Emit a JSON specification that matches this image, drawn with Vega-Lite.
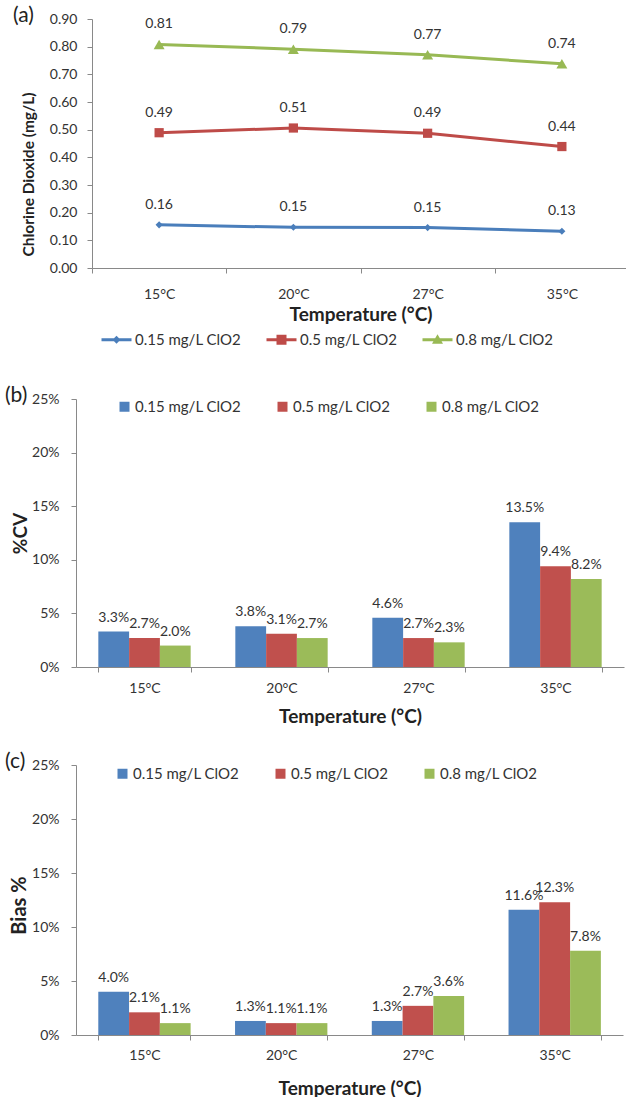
{
  "$schema": "https://vega.github.io/schema/vega-lite/v6.json",
  "padding": {"left": 5, "top": 5, "right": 0, "bottom": 0},
  "background": "white",
  "config": {
    "font": "Lato",
    "view": {"stroke": null},
    "axis": {"grid": false, "domainColor": "#898989", "tickColor": "#898989", "labelColor": "#333333", "titleColor": "#222222", "labelFontSize": 14, "tickSize": 5},
    "legend": {"labelFontSize": 15, "labelColor": "#333333"},
    "title": {"fontWeight": "normal", "fontSize": 21, "color": "#222222", "anchor": "start", "frame": "group", "baseline": "middle", "offset": 0}
  },
  "datasets": {
    "conc": [
      {"temp": "15°C", "series": "0.15 mg/L ClO2", "v": 0.156},
      {"temp": "20°C", "series": "0.15 mg/L ClO2", "v": 0.147},
      {"temp": "27°C", "series": "0.15 mg/L ClO2", "v": 0.146},
      {"temp": "35°C", "series": "0.15 mg/L ClO2", "v": 0.133},
      {"temp": "15°C", "series": "0.5 mg/L ClO2", "v": 0.489},
      {"temp": "20°C", "series": "0.5 mg/L ClO2", "v": 0.506},
      {"temp": "27°C", "series": "0.5 mg/L ClO2", "v": 0.487},
      {"temp": "35°C", "series": "0.5 mg/L ClO2", "v": 0.439},
      {"temp": "15°C", "series": "0.8 mg/L ClO2", "v": 0.808},
      {"temp": "20°C", "series": "0.8 mg/L ClO2", "v": 0.791},
      {"temp": "27°C", "series": "0.8 mg/L ClO2", "v": 0.771},
      {"temp": "35°C", "series": "0.8 mg/L ClO2", "v": 0.738}
    ],
    "cv": [
      {"temp": "15°C", "series": "0.15 mg/L ClO2", "v": 0.033},
      {"temp": "20°C", "series": "0.15 mg/L ClO2", "v": 0.038},
      {"temp": "27°C", "series": "0.15 mg/L ClO2", "v": 0.046},
      {"temp": "35°C", "series": "0.15 mg/L ClO2", "v": 0.135},
      {"temp": "15°C", "series": "0.5 mg/L ClO2", "v": 0.027},
      {"temp": "20°C", "series": "0.5 mg/L ClO2", "v": 0.031},
      {"temp": "27°C", "series": "0.5 mg/L ClO2", "v": 0.027},
      {"temp": "35°C", "series": "0.5 mg/L ClO2", "v": 0.094},
      {"temp": "15°C", "series": "0.8 mg/L ClO2", "v": 0.020},
      {"temp": "20°C", "series": "0.8 mg/L ClO2", "v": 0.027},
      {"temp": "27°C", "series": "0.8 mg/L ClO2", "v": 0.023},
      {"temp": "35°C", "series": "0.8 mg/L ClO2", "v": 0.082}
    ],
    "bias": [
      {"temp": "15°C", "series": "0.15 mg/L ClO2", "v": 0.040},
      {"temp": "20°C", "series": "0.15 mg/L ClO2", "v": 0.013},
      {"temp": "27°C", "series": "0.15 mg/L ClO2", "v": 0.013},
      {"temp": "35°C", "series": "0.15 mg/L ClO2", "v": 0.116},
      {"temp": "15°C", "series": "0.5 mg/L ClO2", "v": 0.021},
      {"temp": "20°C", "series": "0.5 mg/L ClO2", "v": 0.011},
      {"temp": "27°C", "series": "0.5 mg/L ClO2", "v": 0.027},
      {"temp": "35°C", "series": "0.5 mg/L ClO2", "v": 0.123},
      {"temp": "15°C", "series": "0.8 mg/L ClO2", "v": 0.011},
      {"temp": "20°C", "series": "0.8 mg/L ClO2", "v": 0.011},
      {"temp": "27°C", "series": "0.8 mg/L ClO2", "v": 0.036},
      {"temp": "35°C", "series": "0.8 mg/L ClO2", "v": 0.078}
    ]
  },
  "columns": 1,
  "align": "none",
  "spacing": 37,
  "resolve": {"scale": {"color": "independent", "fill": "independent", "shape": "independent", "size": "independent"}, "legend": {"color": "independent", "fill": "independent", "shape": "independent"}},
  "concat": [
    {
      "width": 553,
      "height": 249,
      "title": {"text": "(a)", "dx": -63, "dy": 18},
      "data": {"name": "conc"},
      "encoding": {
        "x": {"field": "temp", "type": "nominal", "sort": ["15°C", "20°C", "27°C", "35°C"], "bandPosition": 0.5,
          "scale": {"paddingInner": 0, "paddingOuter": 0, "range": [16, 553]},
          "axis": {"title": "Temperature (°C)", "labelAngle": 0, "tickBand": "extent", "labelPadding": 14, "titlePadding": 4, "titleFontSize": 19, "titleFontWeight": "bold"}},
        "y": {"field": "v", "type": "quantitative", "scale": {"domain": [0, 0.9], "nice": false},
          "axis": {"offset": -16, "title": "Chlorine Dioxide (mg/L)", "values": [0, 0.1, 0.2, 0.3, 0.4, 0.5, 0.6, 0.7, 0.8, 0.9], "format": ".2f", "labelPadding": 10, "titleFontSize": 15.5, "titleFontWeight": "bold", "titleX": -64, "titleY": 155, "titleBaseline": "middle"}}
      },
      "layer": [
        {
          "mark": {"type": "line", "strokeWidth": 3},
          "encoding": {
            "color": {"field": "series", "type": "nominal", "scale": {"domain": ["0.15 mg/L ClO2", "0.5 mg/L ClO2", "0.8 mg/L ClO2"], "range": ["#4A7EBB", "#BE4B48", "#98B954"]}, "legend": null}
          }
        },
        {
          "mark": {"type": "point", "filled": true, "opacity": 1},
          "encoding": {
            "color": {"field": "series", "type": "nominal", "legend": null},
            "shape": {"field": "series", "type": "nominal", "scale": {"domain": ["0.15 mg/L ClO2", "0.5 mg/L ClO2", "0.8 mg/L ClO2"], "range": ["diamond", "square", "triangle-up"]}, "legend": null},
            "size": {"field": "series", "type": "nominal", "scale": {"domain": ["0.15 mg/L ClO2", "0.5 mg/L ClO2", "0.8 mg/L ClO2"], "range": [50, 120, 120]}, "legend": null}
          }
        },
        {
          "transform": [{"filter": "false"}],
          "mark": {"type": "point", "filled": true, "opacity": 1, "size": 100},
          "encoding": {
            "fill": {"field": "series", "type": "nominal", "scale": {"domain": ["0.15 mg/L ClO2", "0.5 mg/L ClO2", "0.8 mg/L ClO2"], "range": ["#4A7EBB", "#BE4B48", "#98B954"]},
              "legend": {"orient": "none", "legendX": 23, "legendY": 313, "direction": "horizontal", "title": null, "symbolSize": 100, "symbolOffset": 10, "labelOffset": 11, "columnPadding": 22, "symbolStrokeWidth": 0, "labelFontSize": 15}},
            "shape": {"field": "series", "type": "nominal", "scale": {"domain": ["0.15 mg/L ClO2", "0.5 mg/L ClO2", "0.8 mg/L ClO2"], "range": ["M-3,-0.28H3V0.28H-3Z M0,-0.8L0.8,0L0,0.8L-0.8,0Z", "M-3,-0.28H3V0.28H-3Z M-1,-1H1V1H-1Z", "M-3,-0.28H3V0.28H-3Z M0,-1.1L1.1,0.8H-1.1Z"]},
              "legend": {"orient": "none", "legendX": 23, "legendY": 313, "direction": "horizontal", "title": null, "symbolSize": 100, "symbolOffset": 10, "labelOffset": 11, "columnPadding": 22, "symbolStrokeWidth": 0, "labelFontSize": 15}}
          }
        },
        {
          "mark": {"type": "text", "dy": -20, "fontSize": 14, "color": "#333333", "baseline": "middle"},
          "encoding": {"text": {"field": "v", "type": "quantitative", "format": ".2f"}}
        }
      ],
      "resolve": {"scale": {"shape": "independent", "fill": "independent"}}
    },
    {
      "columns": 1,
      "align": "none",
      "spacing": 25,
      "resolve": {"scale": {"color": "independent"}, "legend": {"color": "independent"}},
      "concat": [
        {
          "width": 548,
          "height": 268,
          "title": {"text": "(b)", "dx": -71, "dy": 18},
          "data": {"name": "cv"},
          "encoding": {
            "x": {"field": "temp", "type": "nominal", "sort": ["15°C", "20°C", "27°C", "35°C"],
              "scale": {"paddingInner": 0.326, "paddingOuter": 0.163},
              "axis": {"title": "Temperature (°C)", "labelAngle": 0, "tickBand": "extent", "labelPadding": 9, "titlePadding": 12, "titleFontSize": 19, "titleFontWeight": "bold"}},
            "xOffset": {"field": "series", "type": "nominal", "sort": ["0.15 mg/L ClO2", "0.5 mg/L ClO2", "0.8 mg/L ClO2"], "scale": {"paddingInner": 0, "paddingOuter": 0}},
            "y": {"field": "v", "type": "quantitative", "scale": {"domain": [0, 0.25], "nice": false},
              "axis": {"title": "%CV", "values": [0, 0.05, 0.1, 0.15, 0.2, 0.25], "format": ".0%", "labelPadding": 12, "titleFontSize": 19, "titleFontWeight": "bold", "titleX": -56, "titleY": 134, "titleBaseline": "middle"}}
          },
          "layer": [
            {
              "mark": {"type": "bar"},
              "encoding": {
                "color": {"field": "series", "type": "nominal", "scale": {"domain": ["0.15 mg/L ClO2", "0.5 mg/L ClO2", "0.8 mg/L ClO2"], "range": ["#4F81BD", "#C0504D", "#9BBB59"]},
                  "legend": {"orient": "none", "legendX": 41, "legendY": 0, "direction": "horizontal", "title": null, "symbolType": "square", "symbolSize": 100, "labelOffset": 3, "columnPadding": 33, "labelFontSize": 15}}
              }
            },
            {
              "mark": {"type": "text", "dy": -10, "fontSize": 14, "color": "#333333", "baseline": "alphabetic"},
              "encoding": {"text": {"field": "v", "type": "quantitative", "format": ".1%"}}
            }
          ]
        },
        {
          "width": 547,
          "height": 270,
          "title": {"text": "(c)", "dx": -71, "dy": 18},
          "data": {"name": "bias"},
          "encoding": {
            "x": {"field": "temp", "type": "nominal", "sort": ["15°C", "20°C", "27°C", "35°C"],
              "scale": {"paddingInner": 0.326, "paddingOuter": 0.163},
              "axis": {"title": "Temperature (°C)", "labelAngle": 0, "tickBand": "extent", "labelPadding": 8, "titlePadding": 17, "titleFontSize": 19, "titleFontWeight": "bold"}},
            "xOffset": {"field": "series", "type": "nominal", "sort": ["0.15 mg/L ClO2", "0.5 mg/L ClO2", "0.8 mg/L ClO2"], "scale": {"paddingInner": 0, "paddingOuter": 0}},
            "y": {"field": "v", "type": "quantitative", "scale": {"domain": [0, 0.25], "nice": false},
              "axis": {"title": "Bias %", "values": [0, 0.05, 0.1, 0.15, 0.2, 0.25], "format": ".0%", "labelPadding": 12, "titleFontSize": 20, "titleFontWeight": "bold", "titleX": -57, "titleY": 140, "titleBaseline": "middle"}}
          },
          "layer": [
            {
              "mark": {"type": "bar"},
              "encoding": {
                "color": {"field": "series", "type": "nominal", "scale": {"domain": ["0.15 mg/L ClO2", "0.5 mg/L ClO2", "0.8 mg/L ClO2"], "range": ["#4F81BD", "#C0504D", "#9BBB59"]},
                  "legend": {"orient": "none", "legendX": 39, "legendY": 1, "direction": "horizontal", "title": null, "symbolType": "square", "symbolSize": 100, "labelOffset": 3, "columnPadding": 33, "labelFontSize": 15}}
              }
            },
            {
              "mark": {"type": "text", "dy": -10, "fontSize": 14, "color": "#333333", "baseline": "alphabetic"},
              "encoding": {"text": {"field": "v", "type": "quantitative", "format": ".1%"}}
            }
          ]
        }
      ]
    }
  ]
}
